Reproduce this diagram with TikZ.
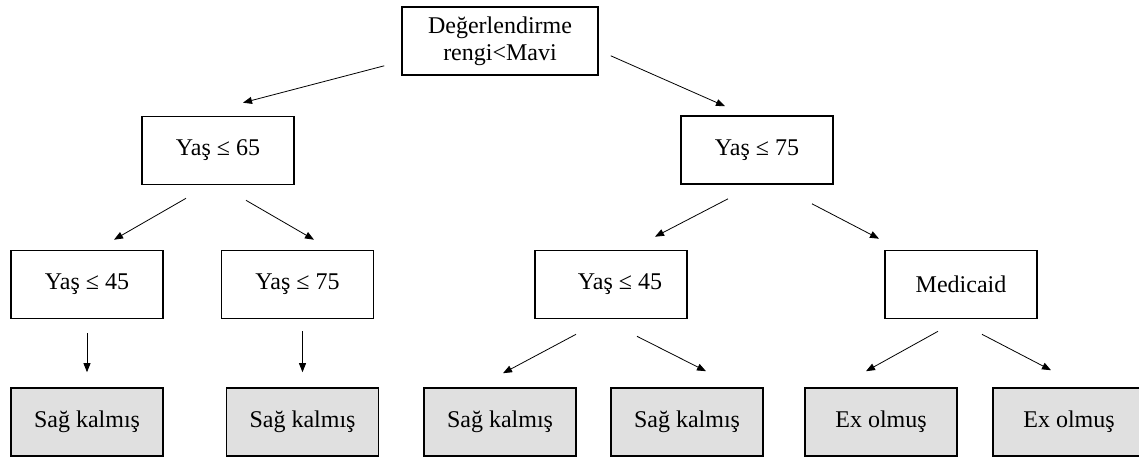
\documentclass[tikz,border=0pt]{standalone}
\usepackage{fontspec}
\setmainfont{Liberation Serif}
\usepackage{xcolor}
\usetikzlibrary{arrows.meta}

\definecolor{leafgray}{RGB}{224,224,224}

\begin{document}
\begin{tikzpicture}[
    x=1pt, y=1pt,
    font=\fontsize{24}{27}\selectfont,
    cond/.style={rectangle, draw, line width=1.6pt, minimum width=152pt, minimum height=68pt, inner sep=0pt, align=center},
    leaf/.style={cond, fill=leafgray},
    arrow/.style={-{Triangle[length=9pt, width=7pt]}, line width=0.8pt}
]
\clip (0,0) rectangle (1139,-459);

% Root
\node[cond, minimum width=196pt] (root) at (500,-41) {Değerlendirme\\rengi<Mavi};

% First split
\node[cond] (yas65) at (218,-150.5) {Yaş ≤ 65};
\node[cond] (yas75r) at (757,-150) {Yaş ≤ 75};

% Second split
\node[cond] (yas45l) at (87,-284.5) {Yaş ≤ 45};
\node[cond] (yas75l) at (297.5,-284.5) {Yaş ≤ 75};
\node[cond] (yas45r) at (611,-284.5) {\hspace*{18pt}Yaş ≤ 45};
\node[cond] (medicaid) at (961,-284.5) {Medicaid};

% Leaves
\node[leaf] (sag1) at (87,-422) {Sağ kalmış};
\node[leaf] (sag2) at (302.5,-422) {Sağ kalmış};
\node[leaf] (sag3) at (500,-422) {Sağ kalmış};
\node[leaf] (sag4) at (687,-422) {Sağ kalmış};
\node[leaf] (ex1) at (881,-422) {Ex olmuş};
\node[leaf] (ex2) at (1069,-422) {Ex olmuş};

% Arrows
\draw[arrow] ([shift={(-17,10)}]root.south west) -- ([shift={(25,13)}]yas65.north);
\draw[arrow] ([shift={(12,20)}]root.south east) -- ([shift={(-32,9)}]yas75r.north);

\draw[arrow] ([shift={(-32,-13)}]yas65.south) -- ([shift={(27,10)}]yas45l.north);
\draw[arrow] ([shift={(28,-15)}]yas65.south) -- ([shift={(16.5,10)}]yas75l.north);

\draw[arrow] ([shift={(0,-14)}]yas45l.south) -- ([shift={(0,15)}]sag1.north);
\draw[arrow] ([shift={(5,-12)}]yas75l.south) -- ([shift={(0,15)}]sag2.north);

\draw[arrow] ([shift={(-29,-14)}]yas75r.south) -- ([shift={(44,13)}]yas45r.north);
\draw[arrow] ([shift={(55,-19)}]yas75r.south) -- ([shift={(-82,11)}]medicaid.north);

\draw[arrow] ([shift={(-35,-15)}]yas45r.south) -- ([shift={(3,14)}]sag3.north);
\draw[arrow] ([shift={(26,-17)}]yas45r.south) -- ([shift={(19,16)}]sag4.north);

\draw[arrow] ([shift={(-23,-12)}]medicaid.south) -- ([shift={(-15,16)}]ex1.north);
\draw[arrow] ([shift={(21,-15)}]medicaid.south) -- ([shift={(-18,17)}]ex2.north);

\end{tikzpicture}
\end{document}
